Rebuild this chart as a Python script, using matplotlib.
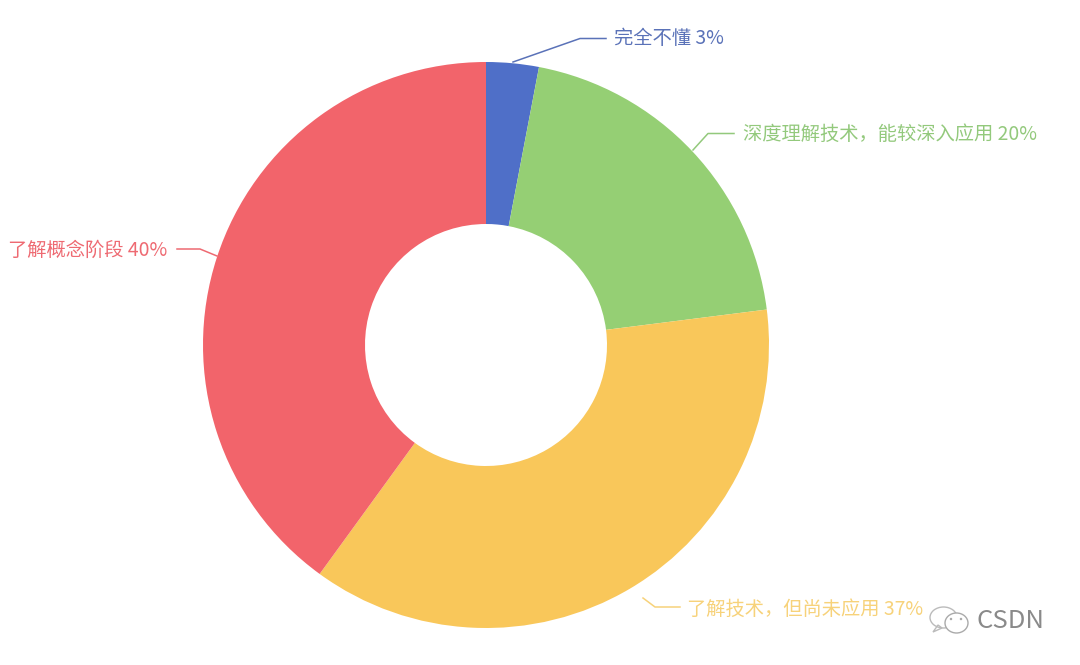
import matplotlib
matplotlib.use("Agg")
import matplotlib.pyplot as plt
from matplotlib.patches import Ellipse, Polygon

plt.rcParams['font.family'] = ['Noto Sans CJK SC', 'DejaVu Sans']

categories = ["完全不懂", "深度理解技术，能较深入应用", "了解技术，但尚未应用", "了解概念阶段"]
shares = [3, 20, 37, 40]
slice_colors = ["#4f6fc8", "#95cf74", "#f9c75a", "#f2646b"]
label_colors = ["#5a72b8", "#93c97c", "#f7d27a", "#ee6a72"]

H = 665
fig = plt.figure(figsize=(10.8, 6.65), dpi=100)
ax = fig.add_axes([0, 0, 1, 1])

# pie is placed in pixel coordinates, y flipped later
ax.pie(
    shares,
    colors=slice_colors,
    startangle=90,
    counterclock=False,
    center=(486, H - 345),
    radius=283,
    wedgeprops={"width": 283 - 121, "linewidth": 0},
    frame=True,
)
ax.set_xlim(0, 1080)
ax.set_ylim(0, H)
ax.set_aspect("equal")
ax.axis("off")

# leader lines, one (x, y) list per slice
leaders = [
    [(513, 62), (580, 38.5), (606, 38.5)],
    [(693, 150), (708, 133.5), (734, 133.5)],
    [(643, 598), (655, 607), (680, 607)],
    [(217, 256), (200, 249), (177, 249)],
]
text_pos = [(614, 38, "left"), (743, 134, "left"), (687, 609, "left"), (167, 250, "right")]

for i, name in enumerate(categories):
    xs = [p[0] for p in leaders[i]]
    ys = [H - p[1] for p in leaders[i]]
    ax.plot(xs, ys, color=label_colors[i], linewidth=1.1)
    x, y, ha = text_pos[i]
    ax.text(x, H - y, f"{name} {shares[i]}%", color=label_colors[i],
            fontsize=13.9, ha=ha, va="center")

# watermark: the chat bubble icon and CSDN
grey = "#8a8a8a"
ax.add_patch(Ellipse((943.5, H - 617.5), 27, 21, fill=False, edgecolor="#bbbbbb", linewidth=1))
ax.add_patch(Polygon([(933, H - 632), (938, H - 625), (942, H - 628)], fill=False,
                     edgecolor="#bbbbbb", linewidth=1))
ax.add_patch(Ellipse((956.5, H - 623), 23, 20, facecolor="white", edgecolor="#aaaaaa", linewidth=1))
ax.add_patch(Ellipse((951, H - 619), 2.5, 2.5, facecolor="#aaaaaa", linewidth=0))
ax.add_patch(Ellipse((961, H - 619), 2.5, 2.5, facecolor="#aaaaaa", linewidth=0))
ax.text(977, H - 621, "CSDN", color=grey, fontsize=18.5, ha="left", va="center",
        fontweight="light")

fig.savefig("out.png", dpi=100)
